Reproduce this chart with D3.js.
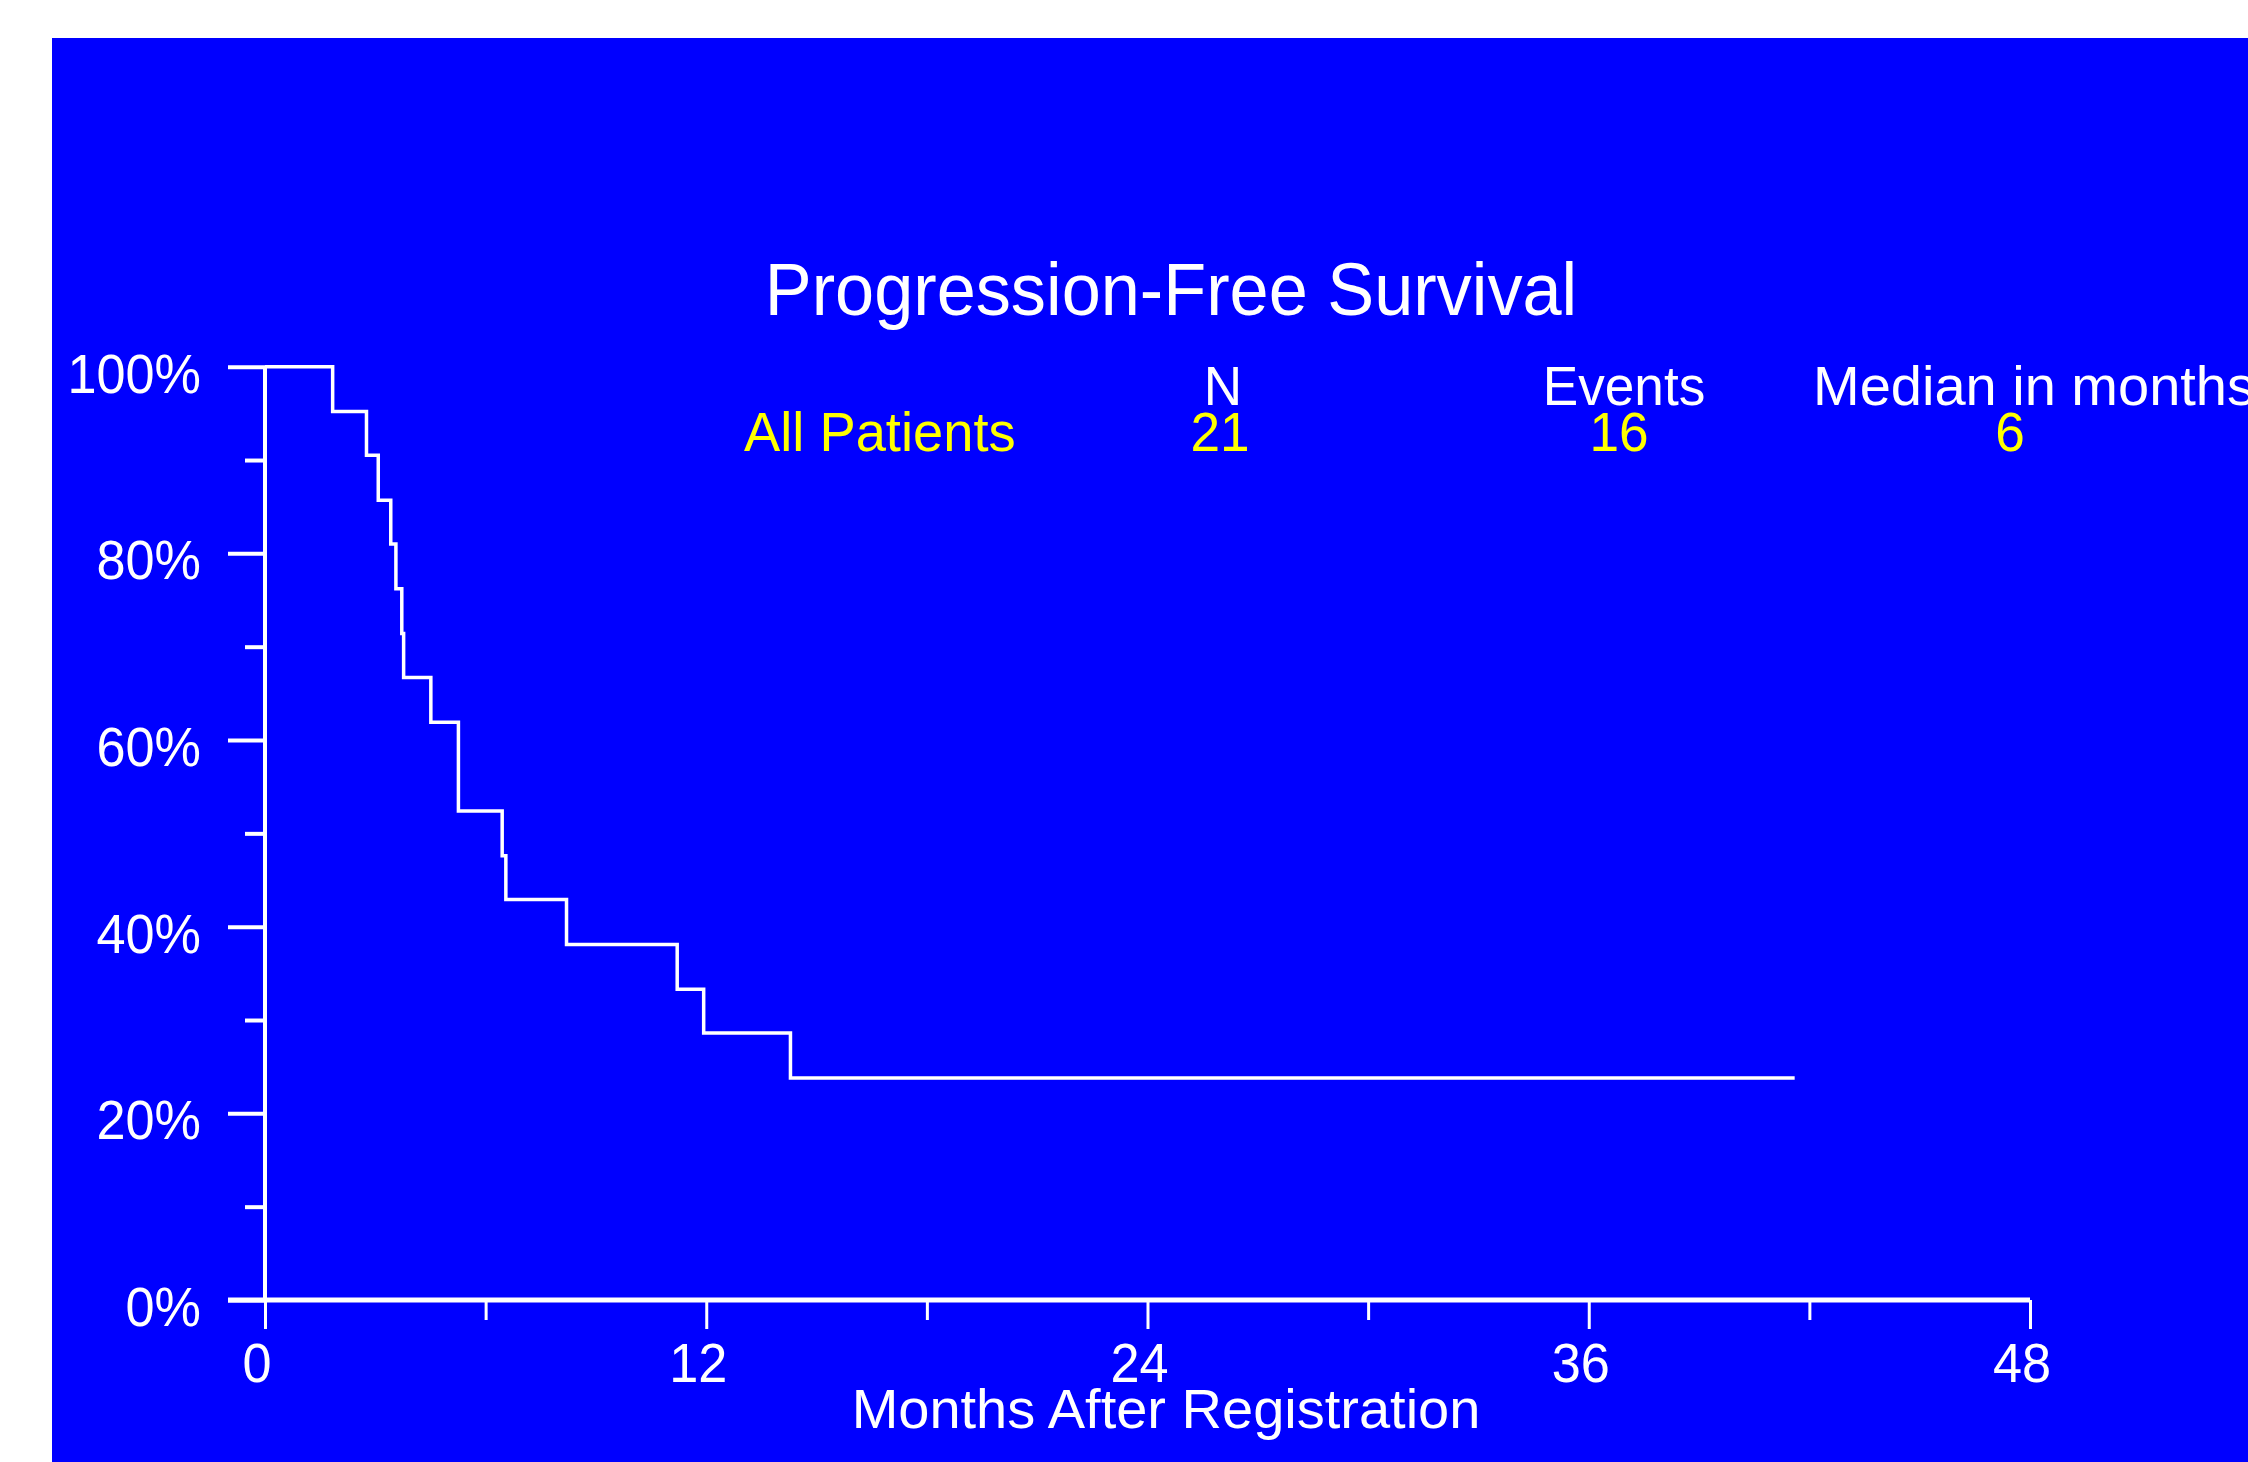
<!DOCTYPE html>
<html><head><meta charset="utf-8">
<script src="https://cdn.jsdelivr.net/npm/d3@7"></script>
<style>html,body{margin:0;padding:0;background:#fff;overflow:hidden}svg{display:block}</style>
</head><body>
<script>
// Data
const months   = [0, 1.84, 2.76, 3.08, 3.42, 3.56, 3.72, 3.77, 4.51, 5.26, 6.45, 6.55, 8.20, 11.21, 11.93, 14.29, 41.6];
const survival = [1.000, 0.952, 0.905, 0.857, 0.810, 0.762, 0.714, 0.667, 0.619, 0.524, 0.476, 0.429, 0.381, 0.333, 0.286, 0.238, 0.238];
const xMajorTicks = [0, 12, 24, 36, 48];
const xMinorTicks = [6, 18, 30, 42];
const yMajorTicks = [0, 0.2, 0.4, 0.6, 0.8, 1.0];
const yMinorTicks = [0.1, 0.3, 0.5, 0.7, 0.9];
const yTickLabels = ["0%", "20%", "40%", "60%", "80%", "100%"];
const legendHeaders = ["N", "Events", "Median in months"];
const groupName = "All Patients";
const groupN = ["21"];
const groupEvents = ["16"];
const groupMedian = ["6"];
const titleText = "Progression-Free Survival";
const xTitleText = "Months After Registration";

const W = 2248, H = 1462;
const svg = d3.select("body").append("svg").attr("width", W).attr("height", H);
svg.append("rect").attr("x", 52).attr("y", 38).attr("width", W - 52).attr("height", H - 38).attr("fill", "#0000FF");

const x = d3.scaleLinear().domain([0, 48]).range([265, 2030]);
const y = d3.scaleLinear().domain([0, 1]).range([1300, 366.7]);

const FONT = "'Liberation Sans', Arial, sans-serif";
function txt(str, px, py, size, anchor, color, sx) {
  return svg.append("text")
    .attr("transform", `translate(${px},${py}) scale(${sx || 0.95},1)`)
    .attr("font-family", FONT).attr("font-size", size)
    .attr("text-anchor", anchor).attr("fill", color).text(str);
}

// Y axis
const yMaj = svg.append("g").attr("transform", `translate(${x(0)},0)`)
  .call(d3.axisLeft(y).tickValues(yMajorTicks).tickSize(37).tickFormat(""));
const yMin = svg.append("g").attr("transform", `translate(${x(0)},0)`)
  .call(d3.axisLeft(y).tickValues(yMinorTicks).tickSize(20).tickFormat(""));
[yMaj, yMin].forEach(g => {
  g.select(".domain").attr("stroke", "#fff").attr("stroke-width", 4)
    .attr("d", `M0,${y(0)}V${y(1)}`);
  g.selectAll(".tick line").attr("stroke", "#fff").attr("stroke-width", 4);
});

// X axis
const xMaj = svg.append("g").attr("transform", `translate(0,${y(0)})`)
  .call(d3.axisBottom(x).tickValues(xMajorTicks).tickSize(29).tickFormat(""));
const xMin = svg.append("g").attr("transform", `translate(0,${y(0)})`)
  .call(d3.axisBottom(x).tickValues(xMinorTicks).tickSize(20).tickFormat(""));
[xMaj, xMin].forEach(g => {
  g.select(".domain").remove();
  g.selectAll(".tick line").attr("stroke", "#fff").attr("stroke-width", 3);
});
svg.append("line").attr("x1", 228).attr("x2", x(48)).attr("y1", y(0)).attr("y2", y(0))
  .attr("stroke", "#fff").attr("stroke-width", 5);

// Tick labels
yMajorTicks.forEach((v, i) => txt(yTickLabels[i], 201, y(v) + 26, 55, "end", "#fff"));
xMajorTicks.forEach(v => txt(String(v), x(v) - 8, 1382, 55, "middle", "#fff"));

// Titles
txt(titleText, 1171, 315, 74, "middle", "#fff");
txt(xTitleText, 1166, 1428, 56, "middle", "#fff", 1.0);

// Legend table
txt(legendHeaders[0], 1223, 405, 56, "middle", "#fff");
txt(legendHeaders[1], 1624, 405, 56, "middle", "#fff");
txt(legendHeaders[2], 1813, 405, 56, "start", "#fff", 1.0);
txt(groupName, 744, 451, 56, "start", "#FFFF00", 0.97);
txt(groupN[0], 1220, 451, 56, "middle", "#FFFF00");
txt(groupEvents[0], 1619, 451, 56, "middle", "#FFFF00");
txt(groupMedian[0], 2010, 451, 56, "middle", "#FFFF00");

// KM step curve
const pts = months.map((m, i) => [m, survival[i]]);
const line = d3.line().x(d => x(d[0])).y(d => y(d[1])).curve(d3.curveStepAfter);
svg.append("path").attr("d", line(pts)).attr("fill", "none")
  .attr("stroke", "#fff").attr("stroke-width", 3.5);
</script>
</body></html>
